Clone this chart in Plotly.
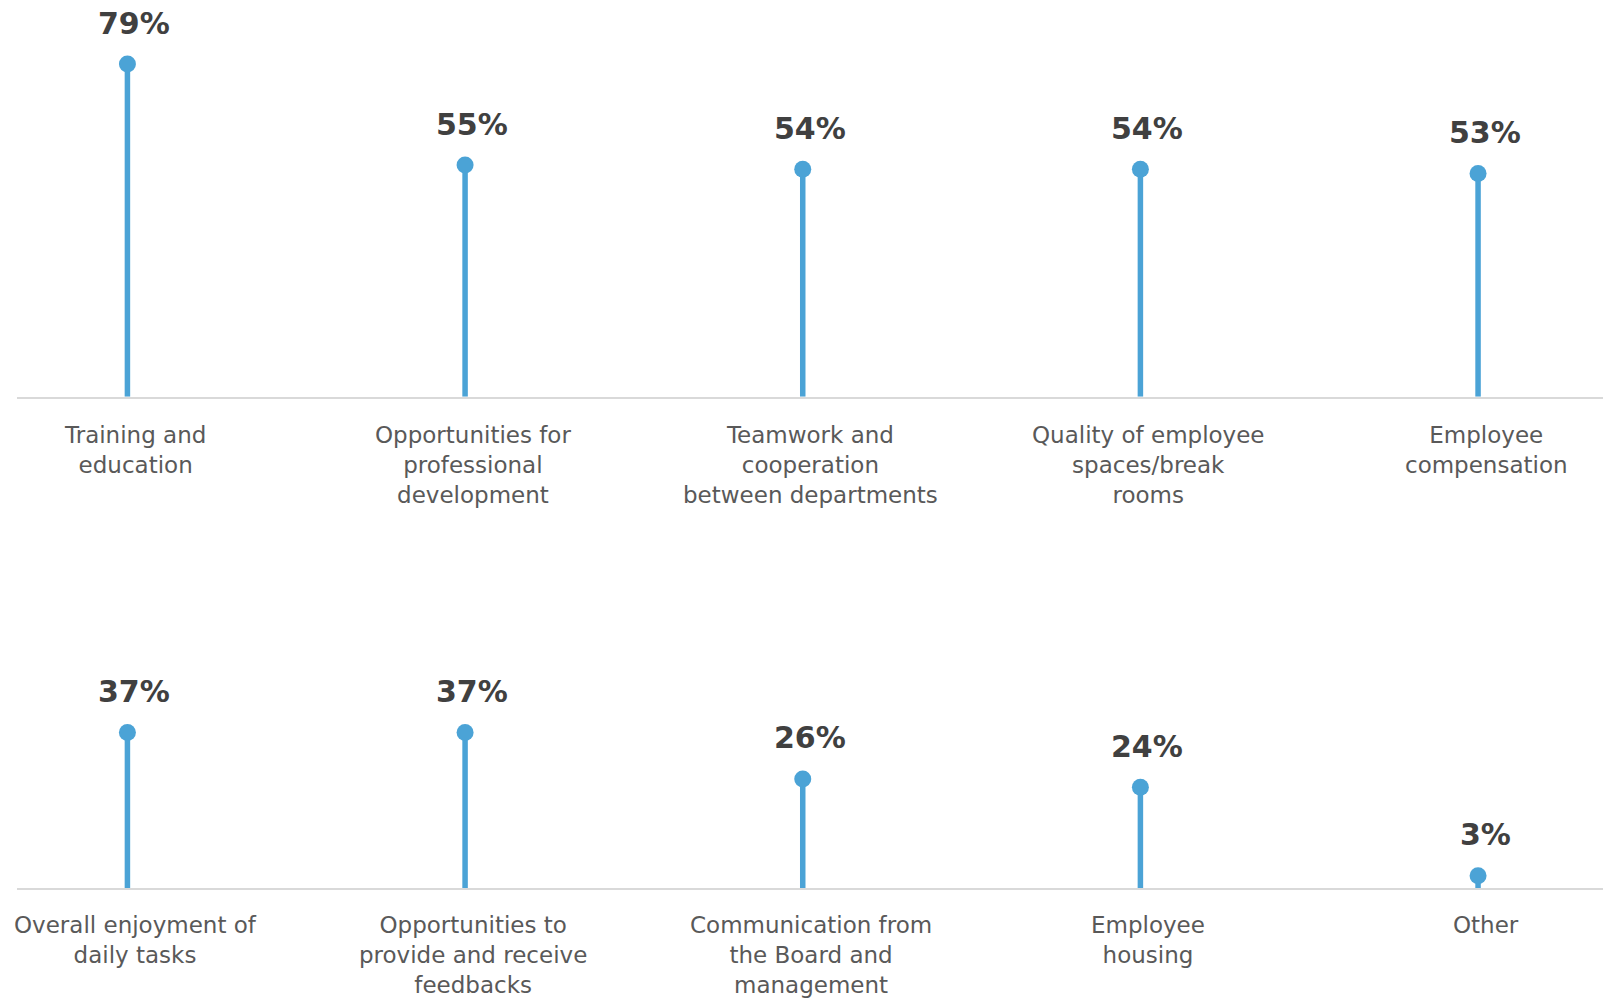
import plotly.graph_objects as go

# ---- data ----
top_categories = [
    "Training and<br>education",
    "Opportunities for<br>professional<br>development",
    "Teamwork and<br>cooperation<br>between departments",
    "Quality of employee<br>spaces/break<br>rooms",
    "Employee<br>compensation",
]
top_values = [79, 55, 54, 54, 53]

bottom_categories = [
    "Overall enjoyment of<br>daily tasks",
    "Opportunities to<br>provide and receive<br>feedbacks",
    "Communication from<br>the Board and<br>management",
    "Employee<br>housing",
    "Other",
]
bottom_values = [37, 37, 26, 24, 3]

# ---- style ----
BLUE = "#4ba3d6"
AXIS = "#d9d9d9"
LABEL = "#595959"
VALUE = "#404040"
FONT = "DejaVu Sans"

fig = go.Figure()

panels = [
    (top_categories, top_values, "x", "y", -23),
    (bottom_categories, bottom_values, "x2", "y2", -22),
]

annotations = []
for cats, vals, xa, ya, lab_shift in panels:
    pos = list(range(len(cats)))
    sx, sy = [], []
    for p, v in zip(pos, vals):
        sx += [p, p, None]
        sy += [0, v, None]
    fig.add_trace(go.Scatter(x=sx, y=sy, mode="lines", xaxis=xa, yaxis=ya,
                             line=dict(color=BLUE, width=5.5), hoverinfo="skip",
                             showlegend=False))
    fig.add_trace(go.Scatter(x=pos, y=vals, mode="markers", xaxis=xa, yaxis=ya,
                             marker=dict(color=BLUE, size=17, line=dict(width=0)),
                             showlegend=False))
    for p, v, c in zip(pos, vals, cats):
        annotations.append(dict(x=p, y=v, xref=xa, yref=ya, text=f"{v}%",
                                showarrow=False, yanchor="middle", xanchor="center",
                                xshift=7, yshift=41,
                                font=dict(family=FONT, size=30, color=VALUE, weight="bold")))
        annotations.append(dict(x=p, y=0, xref=xa, yref=ya, text=c,
                                showarrow=False, yanchor="top", xanchor="center",
                                xshift=8, yshift=lab_shift, align="center",
                                font=dict(family=FONT, size=23, color=LABEL)))

xrange = [-0.327, 4.370]
yrange = [0, 94.2]
common_x = dict(range=xrange, showgrid=False, zeroline=False, showticklabels=False,
                ticks="", showline=True, linecolor=AXIS, linewidth=2, fixedrange=True)
common_y = dict(range=yrange, showgrid=False, zeroline=False, showticklabels=False,
                showline=False, ticks="", fixedrange=True)

fig.update_layout(
    width=1603, height=1001,
    margin=dict(l=17, r=0, t=0, b=0),
    paper_bgcolor="white", plot_bgcolor="white",
    xaxis=dict(**common_x, anchor="y"),
    yaxis=dict(**common_y, domain=[0.6037, 1.0], anchor="x"),
    xaxis2=dict(**common_x, anchor="y2"),
    yaxis2=dict(**common_y, domain=[0.1125, 0.5087], anchor="x2"),
    annotations=annotations,
    font=dict(family=FONT),
)

fig.write_html("out.html")
